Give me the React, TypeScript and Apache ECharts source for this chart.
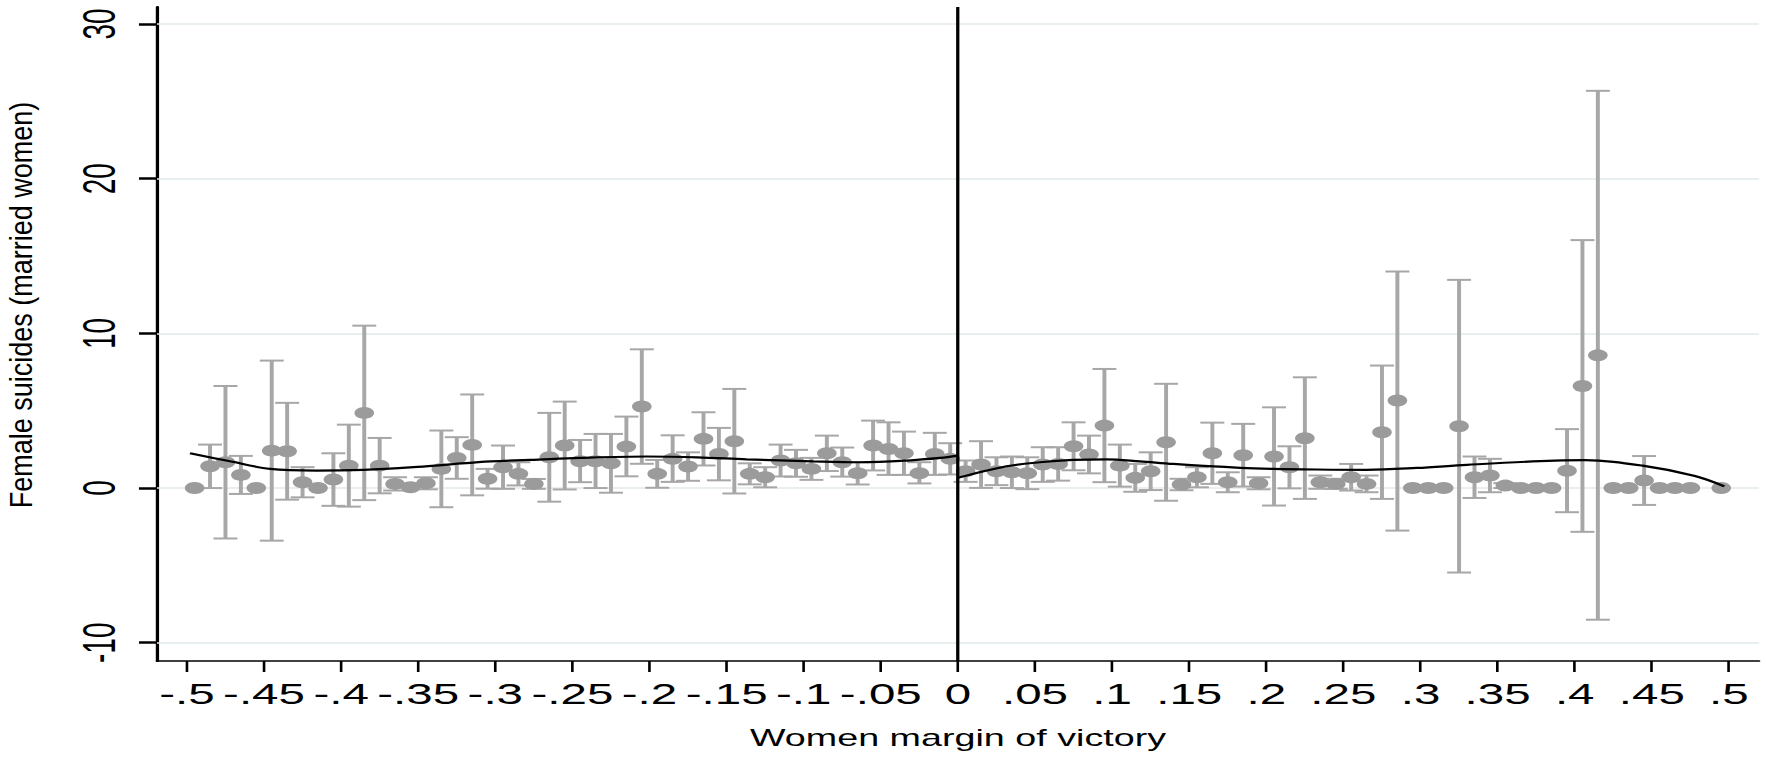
import React, { useEffect, useRef } from 'react';
import * as echarts from 'echarts';

// ---- data ----
const xTitle = 'Women margin of victory';
const yTitle = 'Female suicides (married women)';

const xTickValues = [-0.5, -0.45, -0.4, -0.35, -0.3, -0.25, -0.2, -0.15, -0.1, -0.05, 0, 0.05, 0.1, 0.15, 0.2, 0.25, 0.3, 0.35, 0.4, 0.45, 0.5];
const xTickLabels = ['-.5', '-.45', '-.4', '-.35', '-.3', '-.25', '-.2', '-.15', '-.1', '-.05', '0', '.05', '.1', '.15', '.2', '.25', '.3', '.35', '.4', '.45', '.5'];
const yTickValues = [-10, 0, 10, 20, 30];
const yTickLabels = ['-10', '0', '10', '20', '30'];

const binX = [
  -0.495, -0.485, -0.475, -0.465, -0.455, -0.445, -0.435, -0.425, -0.415, -0.405,
  -0.395, -0.385, -0.375, -0.365, -0.355, -0.345, -0.335, -0.325, -0.315, -0.305,
  -0.295, -0.285, -0.275, -0.265, -0.255, -0.245, -0.235, -0.225, -0.215, -0.205,
  -0.195, -0.185, -0.175, -0.165, -0.155, -0.145, -0.135, -0.125, -0.115, -0.105,
  -0.095, -0.085, -0.075, -0.065, -0.055, -0.045, -0.035, -0.025, -0.015, -0.005,
  0.005, 0.015, 0.025, 0.035, 0.045, 0.055, 0.065, 0.075, 0.085, 0.095,
  0.105, 0.115, 0.125, 0.135, 0.145, 0.155, 0.165, 0.175, 0.185, 0.195,
  0.205, 0.215, 0.225, 0.235, 0.245, 0.255, 0.265, 0.275, 0.285, 0.295,
  0.305, 0.315, 0.325, 0.335, 0.345, 0.355, 0.365, 0.375, 0.385, 0.395,
  0.405, 0.415, 0.425, 0.435, 0.445, 0.455, 0.465, 0.475, 0.495,
];

const meanVals = [
  0, 1.41, 1.67, 0.85, 0, 2.42, 2.38, 0.38, 0, 0.55,
  1.45, 4.86, 1.45, 0.27, 0.05, 0.31, 1.24, 1.95, 2.79, 0.6,
  1.35, 0.92, 0.27, 1.99, 2.75, 1.73, 1.73, 1.6, 2.68, 5.27,
  0.92, 1.89, 1.39, 3.18, 2.21, 3.03, 0.92, 0.7, 1.78, 1.6,
  1.24, 2.25, 1.67, 0.96, 2.75, 2.53, 2.25, 0.96, 2.21, 1.89,
  1.09, 1.52, 1.09, 1.02, 0.96, 1.52, 1.56, 2.7, 2.17, 4.04,
  1.45, 0.66, 1.09, 2.96, 0.23, 0.7, 2.25, 0.38, 2.12, 0.31,
  2.04, 1.35, 3.22, 0.38, 0.27, 0.7, 0.27, 3.61, 5.66, 0,
  0, 0, 4.0, 0.7, 0.81, 0.16, 0, 0, 0, 1.12,
  6.6, 8.58, 0, 0, 0.49, 0, 0, 0, 0,
];

const ciLow = [
  null, 0.0, -3.26, -0.38, null, -3.4, -0.75, -0.6, null, -1.15,
  -1.2, -0.78, -0.34, -0.16, null, -0.08, -1.24, 0.6, -0.47, -0.04,
  -0.05, 0.17, -0.05, -0.88, -0.09, 0.38, 0.0, -0.3, 0.76, 1.57,
  0.02, 0.4, 0.47, 1.46, 0.5, -0.35, 0.24, 0.05, 0.75, 0.73,
  0.53, 1.1, 0.74, 0.23, 1.14, 0.85, 0.85, 0.3, 0.85, 0.88,
  0.4, 0.01, 0.19, 0.0, -0.07, 0.4, 0.48, 1.15, 0.95, 0.38,
  0.09, -0.24, -0.13, -0.82, -0.14, 0.05, 0.27, -0.27, 0.1, -0.08,
  -1.13, -0.02, -0.7, -0.05, -0.05, -0.16, -0.27, -0.7, -2.75, null,
  null, null, -5.46, -0.64, -0.27, 0.0, null, null, null, -1.56,
  -2.83, -8.51, null, null, -1.09, null, null, null, null,
];

const ciHigh = [
  null, 2.81, 6.6, 2.08, null, 8.24, 5.51, 1.35, null, 2.25,
  4.1, 10.5, 3.24, 0.7, null, 0.7, 3.72, 3.29, 6.05, 1.24,
  2.75, 1.67, 0.59, 4.86, 5.59, 3.11, 3.5, 3.5, 4.62, 8.97,
  1.82, 3.41, 2.31, 4.9, 3.89, 6.41, 1.6, 1.35, 2.81, 2.47,
  1.95, 3.39, 2.62, 1.67, 4.36, 4.25, 3.65, 1.67, 3.57, 2.9,
  1.78, 3.03, 1.99, 2.04, 1.99, 2.64, 2.64, 4.25, 3.39, 7.7,
  2.81, 1.56, 2.31, 6.74, 0.6, 1.35, 4.23, 1.02, 4.15, 0.7,
  5.22, 2.7, 7.16, 0.81, 0.6, 1.56, 0.81, 7.92, 14.0, null,
  null, null, 13.46, 2.04, 1.89, 0.32, null, null, null, 3.81,
  16.03, 25.68, null, null, 2.07, null, null, null, null,
];

const leftFitX = [-0.498, -0.472, -0.446, -0.416, -0.3855, -0.353, -0.331, -0.303, -0.2775, -0.245, -0.202, -0.169, -0.137, -0.094, -0.0635, -0.033, -0.0116, 0];
const leftFitY = [2.25, 1.73, 1.24, 1.13, 1.18, 1.35, 1.52, 1.73, 1.82, 1.95, 2.04, 1.99, 1.86, 1.73, 1.67, 1.78, 1.95, 2.1];
const rightFitX = [0, 0.0316, 0.0532, 0.0748, 0.0965, 0.118, 0.1397, 0.183, 0.2045, 0.2326, 0.265, 0.2975, 0.33, 0.3774, 0.4065, 0.444, 0.478, 0.497];
const rightFitY = [0.66, 1.41, 1.67, 1.82, 1.86, 1.73, 1.56, 1.31, 1.24, 1.2, 1.18, 1.3, 1.5, 1.74, 1.8, 1.45, 0.78, 0.11];

// ---- layout ----
const S = 1.64; // horizontal stretch of the reference image
const W = 1766;
const H = 762;
const innerW = W / S;
const FONT = '"Liberation Sans", Arial, Helvetica, sans-serif';

export default function App() {
  const ref = useRef<HTMLDivElement>(null);

  useEffect(() => {
    document.body.style.margin = '0';
    const el = ref.current;
    if (!el) return;
    const chart = echarts.init(el, null, { renderer: 'svg', width: innerW, height: H });

    const fmt = (vals: number[], labels: string[]) => (v: number) => {
      const i = vals.findIndex((t) => Math.abs(t - v) < 1e-9);
      return i >= 0 ? labels[i] : '';
    };

    const points = binX.map((x, i) => [x, meanVals[i]]);
    const bars: number[][] = [];
    binX.forEach((x, i) => {
      const lo = ciLow[i];
      const hi = ciHigh[i];
      if (lo !== null && hi !== null) bars.push([x, lo as number, hi as number]);
    });
    const leftFit = leftFitX.map((x, i) => [x, leftFitY[i]]);
    const rightFit = rightFitX.map((x, i) => [x, rightFitY[i]]);

    const barColor = '#a7a7a7';
    const markerColor = '#9b9b9b';

    const option: any = {
      animation: false,
      backgroundColor: '#ffffff',
      grid: {
        left: 95.73,
        right: innerW - 1072.56,
        top: 7,
        bottom: H - 661,
        outerBoundsMode: 'none',
        containLabel: false,
      },
      xAxis: {
        type: 'value',
        min: -0.5194,
        max: 0.5195,
        axisLine: { show: true, onZero: false, lineStyle: { color: '#000', width: 1.7 } },
        axisTick: { show: true, length: 11, customValues: xTickValues, lineStyle: { color: '#000', width: 1.6 } },
        axisLabel: {
          show: true,
          customValues: xTickValues,
          formatter: fmt(xTickValues, xTickLabels),
          fontSize: 29,
          lineHeight: 29,
          fontFamily: FONT,
          color: '#000',
          margin: 18,
        },
        splitLine: { show: false },
        name: xTitle,
        nameLocation: 'middle',
        nameGap: 66,
        nameTextStyle: { fontSize: 23, lineHeight: 23, fontFamily: FONT, color: '#000' },
      },
      yAxis: {
        type: 'value',
        min: -11.18,
        max: 31.1,
        axisLine: { show: true, onZero: false, lineStyle: { color: '#000', width: 2 } },
        axisTick: { show: true, length: 11, customValues: yTickValues, lineStyle: { color: '#000', width: 2.5 } },
        axisLabel: {
          show: true,
          customValues: yTickValues,
          formatter: fmt(yTickValues, yTickLabels),
          rotate: 90,
          fontSize: 28,
          lineHeight: 28,
          fontFamily: FONT,
          color: '#000',
          margin: 21,
        },
        splitLine: { show: false },
      },
      graphic: [
        {
          type: 'text',
          x: 12.9,
          y: 305,
          rotation: Math.PI / 2,
          scaleY: 0.72,
          silent: true,
          style: {
            text: yTitle,
            fontSize: 27,
            fontFamily: FONT,
            fill: '#000',
            align: 'center',
            verticalAlign: 'middle',
            textAlign: 'center',
            textVerticalAlign: 'middle',
          },
        },
      ],
      series: [
        {
          name: 'grid',
          type: 'line',
          data: [],
          z: 1,
          silent: true,
          markLine: {
            silent: true,
            z: 1,
            symbol: ['none', 'none'],
            label: { show: false },
            lineStyle: { color: '#e2eaed', width: 1.6, type: 'solid' },
            emphasis: { disabled: true },
            data: yTickValues.map((v) => ({ yAxis: v })),
          },
        },
        {
          name: 'ci',
          type: 'custom',
          z: 2,
          silent: true,
          data: bars,
          encode: { x: 0, y: [1, 2] },
          renderItem: (_params: any, api: any) => {
            const x = api.value(0);
            const top = api.coord([x, api.value(2)]);
            const bot = api.coord([x, api.value(1)]);
            const hw = 7.3;
            return {
              type: 'group',
              children: [
                { type: 'line', shape: { x1: top[0], y1: top[1], x2: bot[0], y2: bot[1] }, style: { stroke: barColor, lineWidth: 2.4 } },
                { type: 'line', shape: { x1: top[0] - hw, y1: top[1], x2: top[0] + hw, y2: top[1] }, style: { stroke: barColor, lineWidth: 2 } },
                { type: 'line', shape: { x1: bot[0] - hw, y1: bot[1], x2: bot[0] + hw, y2: bot[1] }, style: { stroke: barColor, lineWidth: 2 } },
              ],
            };
          },
        },
        {
          name: 'bins',
          type: 'scatter',
          z: 3,
          silent: true,
          symbol: 'circle',
          symbolSize: 12,
          itemStyle: { color: markerColor, opacity: 1 },
          data: points,
        },
        {
          name: 'fitLeft',
          type: 'line',
          z: 4,
          silent: true,
          smooth: 0.35,
          showSymbol: false,
          symbol: 'none',
          lineStyle: { color: '#000', width: 2.2 },
          data: leftFit,
        },
        {
          name: 'fitRight',
          type: 'line',
          z: 4,
          silent: true,
          smooth: 0.35,
          showSymbol: false,
          symbol: 'none',
          lineStyle: { color: '#000', width: 2.2 },
          data: rightFit,
          markLine: {
            silent: true,
            symbol: ['none', 'none'],
            label: { show: false },
            lineStyle: { color: '#000', width: 2, type: 'solid' },
            emphasis: { disabled: true },
            data: [{ xAxis: 0 }],
          },
        },
      ],
    };

    chart.setOption(option);
    return () => chart.dispose();
  }, []);

  return (
    <div style={{ position: 'fixed', left: 0, top: 0, width: W, height: H, overflow: 'hidden', background: '#fff' }}>
      <div ref={ref} style={{ width: innerW, height: H, transform: `scaleX(${S})`, transformOrigin: '0 0' }} />
    </div>
  );
}
